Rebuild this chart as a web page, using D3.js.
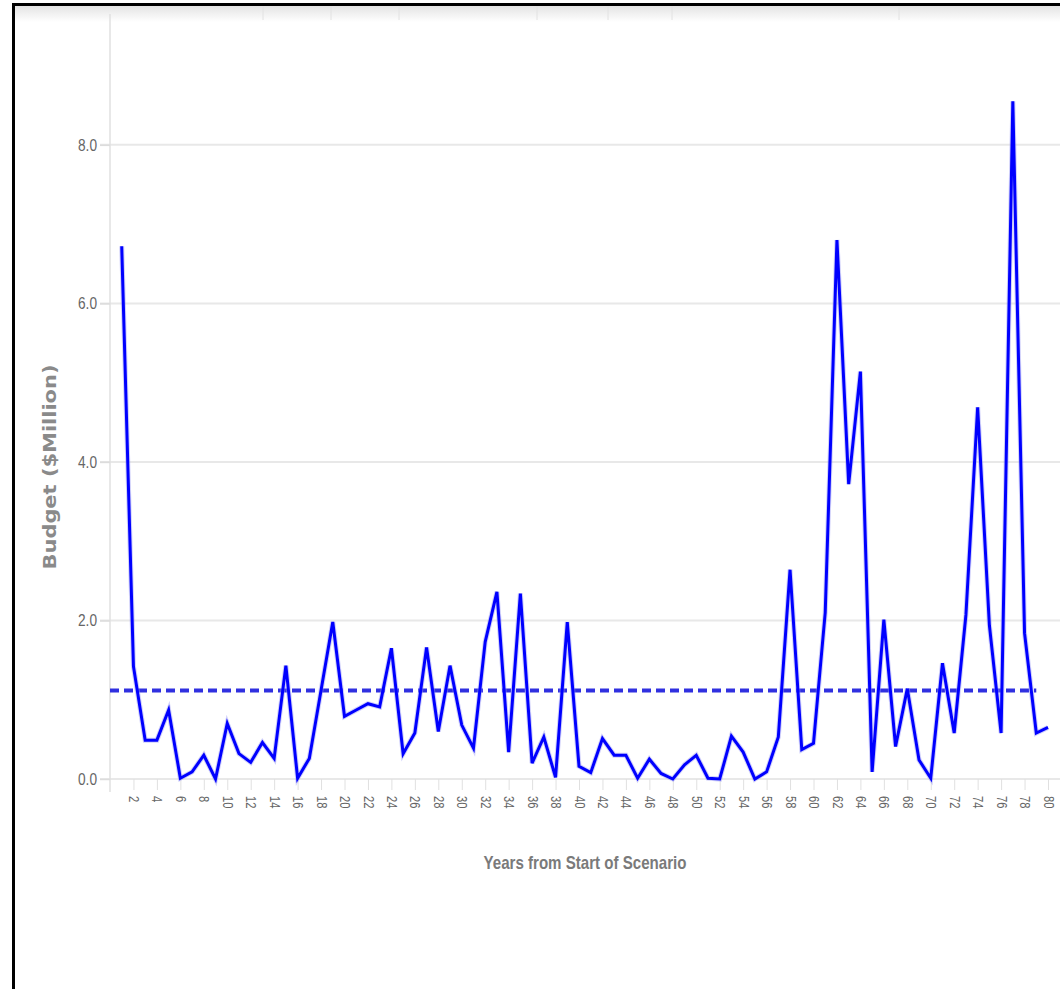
<!DOCTYPE html>
<html>
<head>
<meta charset="utf-8">
<script src="https://cdn.jsdelivr.net/npm/d3@7"></script>
<style>
  html, body { margin: 0; padding: 0; background: #fff; }
  svg { display: block; }
</style>
</head>
<body>
<svg id="chart" width="1060" height="989"></svg>
<script>
// ---- data ----
const years = d3.range(1, 81);
const budget = [
  6.72, 1.42, 0.49, 0.49, 0.87, 0.01, 0.09, 0.30, 0.00, 0.70,
  0.32, 0.21, 0.46, 0.26, 1.43, 0.01, 0.26, 1.12, 1.98, 0.79,
  0.87, 0.95, 0.91, 1.65, 0.32, 0.58, 1.66, 0.60, 1.43, 0.68,
  0.39, 1.73, 2.36, 0.34, 2.34, 0.20, 0.53, 0.02, 1.98, 0.16,
  0.08, 0.51, 0.30, 0.30, 0.01, 0.25, 0.07, 0.00, 0.18, 0.30,
  0.01, 0.00, 0.54, 0.34, 0.00, 0.09, 0.53, 2.64, 0.37, 0.45,
  2.10, 6.80, 3.72, 5.14, 0.09, 2.01, 0.41, 1.14, 0.24, 0.01,
  1.46, 0.58, 2.07, 4.69, 1.94, 0.58, 8.55, 1.84, 0.58, 0.65
];
const yTicks = [0, 2, 4, 6, 8];
const xTicks = d3.range(2, 81, 2);
const meanStartYear = 0;
const meanEndYear = 79;
const xTitle = "Years from Start of Scenario";
const yTitle = "Budget ($Million)";

const data = years.map((yr, i) => ({ year: yr, value: budget[i] }));
const meanValue = d3.mean(budget);

// ---- layout ----
const svg = d3.select("#chart");
const x = d3.scaleLinear().domain([0, 80]).range([110, 1048]);
const y = d3.scaleLinear().domain([0, 9.6]).range([779, 18]);

const sans = "'Liberation Sans', Arial, sans-serif";

// top cropped header band
const defs = svg.append("defs");
const grad = defs.append("linearGradient").attr("id", "band").attr("x1", 0).attr("x2", 0).attr("y1", 0).attr("y2", 1);
grad.append("stop").attr("offset", "0%").attr("stop-color", "#e4e4e4");
grad.append("stop").attr("offset", "100%").attr("stop-color", "#ffffff");
svg.append("rect").attr("x", 14).attr("y", 6).attr("width", 1046).attr("height", 16).attr("fill", "url(#band)");
[263, 331, 399, 537, 608, 672, 899].forEach(px => {
  svg.append("line").attr("x1", px).attr("x2", px).attr("y1", 6).attr("y2", 20)
    .attr("stroke", "#e2e2e2").attr("stroke-width", 1);
});

// gridlines
const grid = svg.append("g");
grid.selectAll("line").data(yTicks).join("line")
  .attr("x1", 100).attr("x2", 1060)
  .attr("y1", d => y(d)).attr("y2", d => y(d))
  .attr("stroke", "#e8e8e8").attr("stroke-width", 2);

// y axis line
svg.append("line").attr("x1", x(0)).attr("x2", x(0)).attr("y1", 14).attr("y2", 792)
  .attr("stroke", "#e0e0e0").attr("stroke-width", 1.5);

// y axis
const yAxis = svg.append("g").attr("transform", `translate(${x(0)},0)`)
  .call(d3.axisLeft(y).tickValues(yTicks).tickFormat(d3.format(".1f")).tickSize(10).tickPadding(3));
yAxis.select(".domain").remove();
yAxis.selectAll(".tick line").attr("stroke", "#dcdcdc").attr("stroke-width", 1.5);
yAxis.selectAll(".tick text").attr("fill", "#666").attr("font-family", sans).attr("font-size", 17)
  .attr("textLength", 19).attr("lengthAdjust", "spacingAndGlyphs");

// x axis
const xAxis = svg.append("g").attr("transform", `translate(0,${y(0)})`)
  .call(d3.axisBottom(x).tickValues(xTicks).tickFormat(d3.format("d")).tickSize(11));
xAxis.select(".domain").remove();
xAxis.selectAll(".tick line").attr("stroke", "#e0e0e0").attr("stroke-width", 1);
xAxis.selectAll(".tick text")
  .attr("fill", "#666").attr("font-family", sans).attr("font-size", 14)
  .attr("text-anchor", "start").attr("dy", "0.35em")
  .attr("transform", "translate(0,17) rotate(90) scale(0.8,1)").attr("x", 0).attr("y", 0);

// mean dashed line
svg.append("line")
  .attr("x1", x(meanStartYear)).attr("x2", x(meanEndYear))
  .attr("y1", y(meanValue)).attr("y2", y(meanValue))
  .attr("stroke", "#3030e0").attr("stroke-width", 4).attr("stroke-dasharray", "9,5");

// main line
const line = d3.line().x(d => x(d.year)).y(d => y(d.value));
svg.append("path").datum(data)
  .attr("d", line).attr("fill", "none")
  .attr("stroke", "#9a9af5").attr("stroke-width", 5).attr("stroke-linejoin", "miter").attr("opacity", 0.45);
svg.append("path").datum(data)
  .attr("d", line).attr("fill", "none")
  .attr("stroke", "#0000ff").attr("stroke-width", 3).attr("stroke-linejoin", "miter");

// axis titles
svg.append("text").attr("x", 585).attr("y", 869).attr("text-anchor", "middle")
  .attr("font-family", sans).attr("font-size", 19).attr("font-weight", "bold")
  .attr("textLength", 203).attr("lengthAdjust", "spacingAndGlyphs")
  .attr("fill", "#7a7a7a").text(xTitle);

svg.append("text").attr("transform", "translate(56,467) rotate(-90)").attr("text-anchor", "middle")
  .attr("font-family", "'DejaVu Sans', sans-serif").attr("font-size", 17).attr("font-weight", "bold")
  .attr("textLength", 205).attr("lengthAdjust", "spacingAndGlyphs")
  .attr("fill", "#8a8a8a").text(yTitle);

// frame (top + left border)
svg.append("line").attr("x1", 12).attr("x2", 1060).attr("y1", 4.5).attr("y2", 4.5).attr("stroke", "#000").attr("stroke-width", 3);
svg.append("line").attr("x1", 13.5).attr("x2", 13.5).attr("y1", 3).attr("y2", 989).attr("stroke", "#000").attr("stroke-width", 3);
</script>
</body>
</html>
